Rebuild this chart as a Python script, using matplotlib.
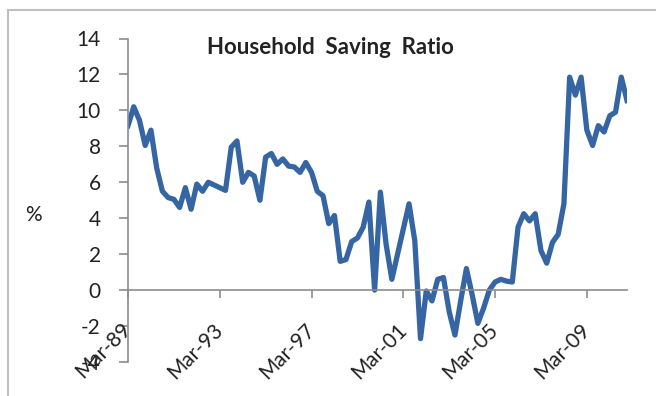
import matplotlib
matplotlib.use("Agg")
import matplotlib.pyplot as plt
import matplotlib.transforms as mtransforms
from matplotlib.patches import Rectangle
import pandas as pd

plt.rcParams['font.family'] = ['Lato', 'DejaVu Sans']

# quarterly categories, Mar-89 .. Dec-10
quarters = [p.strftime('%b-%y') for p in pd.period_range('1989Q1', '2010Q4', freq='Q')]

# household saving ratio, %
saving_ratio = [
    9.15, 10.2, 9.45, 8.05, 8.9, 6.8, 5.5, 5.15, 5.05, 4.6,
    5.7, 4.5, 5.9, 5.5, 6.0, 5.85, 5.7, 5.55, 7.95, 8.3,
    6.0, 6.55, 6.35, 5.0, 7.4, 7.6, 7.0, 7.3, 6.9, 6.85,
    6.55, 7.1, 6.55, 5.5, 5.25, 3.7, 4.15, 1.6, 1.7, 2.7,
    2.9, 3.5, 4.9, 0.0, 5.45, 2.55, 0.6, 2.0, 3.4, 4.8,
    2.75, -2.7, -0.05, -0.6, 0.6, 0.7, -1.2, -2.5, -0.6, 1.2,
    -0.25, -1.85, -1.0, 0.0, 0.45, 0.6, 0.5, 0.45, 3.5, 4.25,
    3.85, 4.25, 2.2, 1.5, 2.65, 3.1, 4.8, 11.85, 10.85, 11.85,
    8.9, 8.05, 9.15, 8.8, 9.7, 9.9, 11.85, 10.55,
]
label_every = 16
y_ticks = list(range(-4, 15, 2))

fig = plt.figure(figsize=(6.56, 3.96), dpi=100)
ax = fig.add_axes([128/656, 1 - 362/396, 499/656, 323.5/396])

x = list(range(len(saving_ratio)))
ax.plot(x, saving_ratio, color='#3565A3', lw=3.8, solid_joinstyle='round')

ax.set_xlim(0, len(saving_ratio) - 1)
ax.set_ylim(-4, 14)

axis_grey = '#8C8C8C'
text_col = '#222222'
for s in ['top', 'right']:
    ax.spines[s].set_visible(False)
ax.spines['bottom'].set_position(('data', 0))
ax.spines['bottom'].set_color(axis_grey)
ax.spines['left'].set_color(axis_grey)
ax.spines['bottom'].set_linewidth(1.2)
ax.spines['left'].set_linewidth(1.2)

ax.set_yticks(y_ticks)
ax.set_yticklabels([str(v) for v in y_ticks])
ax.tick_params(axis='y', direction='out', length=6.5, width=1.2, color=axis_grey,
               pad=13, labelsize=15, labelcolor=text_col)

# x ticks on the zero line, labels placed low (below the plot)
tick_pos = x[::label_every]
ax.set_xticks(tick_pos)
ax.set_xticklabels([])
ax.tick_params(axis='x', direction='out', length=6, width=1.2, color=axis_grey)
trans = mtransforms.blended_transform_factory(ax.transData, ax.transAxes)
for p in tick_pos:
    ax.text(p, 0.11, quarters[p], transform=trans, rotation=45,
            rotation_mode='anchor', ha='right', va='center',
            fontsize=15, color=text_col)

fig.text(330/656, 1 - 47/396, 'Household  Saving  Ratio', ha='center', va='center',
         fontsize=16, fontweight='bold', color=text_col)
fig.text(33/656, 1 - 215/396, '%', ha='center', va='center', fontsize=15, color=text_col)

# light frame round the chart
fig.patches.append(Rectangle((8/656, -0.1), 1.0, 1.1 - 10/396, transform=fig.transFigure,
                             fill=False, edgecolor='#BFBFBF', lw=1.5))

fig.savefig('out.png', dpi=100)
